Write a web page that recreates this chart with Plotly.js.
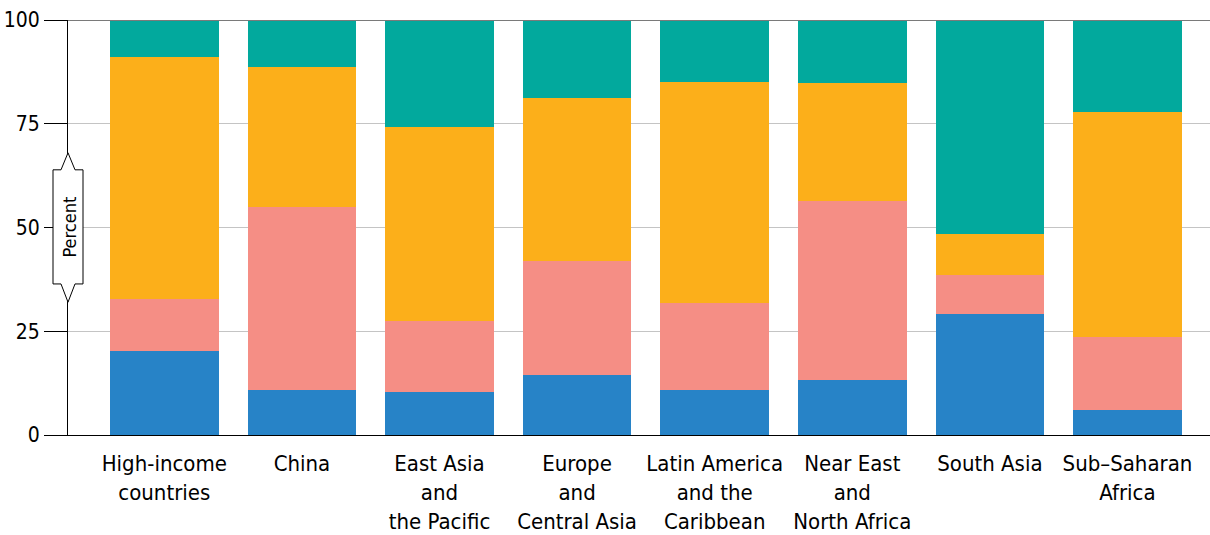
<!DOCTYPE html>
<html>
<head>
<meta charset="utf-8">
<script src="https://cdn.plot.ly/plotly-3.0.1.min.js"></script>
<style>
html,body{margin:0;padding:0;background:#fff;}
#chart{width:1210px;height:535px;}
</style>
</head>
<body>
<div id="chart"></div>
<script>
const categories = [
  "High-income<br>countries",
  "China",
  "East Asia<br>and<br>the Pacific",
  "Europe<br>and<br>Central Asia",
  "Latin America<br>and the<br>Caribbean",
  "Near East<br>and<br>North Africa",
  "South Asia",
  "Sub–Saharan<br>Africa"
];
// stacked shares (percent), bottom to top
const blueValues   = [20.2, 10.8, 10.4, 14.5, 10.8, 13.3, 29.2, 6.0];
const pinkValues   = [12.6, 44.1, 17.1, 27.4, 21.0, 43.1, 9.4, 17.6];
const orangeValues = [58.3, 33.8, 46.7, 39.3, 53.3, 28.4, 9.8, 54.2];
const tealValues   = [8.9, 11.3, 25.8, 18.8, 14.9, 15.2, 51.6, 22.2];
const yTicks = [0, 25, 50, 75, 100];
const yTitle = "Percent";

const FONT = "'DejaVu Sans Condensed', 'Liberation Sans Narrow', sans-serif";

const series = [
  {name: "Blue", y: blueValues, color: "#2783c7"},
  {name: "Pink", y: pinkValues, color: "#f58e85"},
  {name: "Orange", y: orangeValues, color: "#fcaf1a"},
  {name: "Teal", y: tealValues, color: "#02a99d"}
];

const xIdx = categories.map((c, i) => i);
const traces = series.map(s => ({
  type: "bar",
  x: xIdx,
  y: s.y,
  name: s.name,
  marker: {color: s.color, line: {width: 0}},
  hoverinfo: "skip"
}));

const layout = {
  width: 1210,
  height: 535,
  margin: {l: 68, r: 0, t: 20, b: 100},
  barmode: "stack",
  bargap: 0.21,
  showlegend: false,
  paper_bgcolor: "#fff",
  plot_bgcolor: "#fff",
  font: {family: FONT, size: 22, color: "#000"},
  xaxis: {
    range: [-0.7, 7.6],
    tickmode: "array",
    tickvals: xIdx,
    ticktext: categories,
    ticks: "",
    showline: true,
    linecolor: "#000",
    linewidth: 1,
    showgrid: false,
    zeroline: false,
    tickfont: {family: FONT, size: 22, color: "#000"},
    ticklabelstandoff: 9,
    fixedrange: true
  },
  yaxis: {
    range: [0, 100],
    tickmode: "array",
    tickvals: yTicks,
    ticktext: yTicks.map(String),
    ticks: "outside",
    ticklen: 23,
    tickcolor: "#000",
    tickwidth: 1,
    showline: true,
    linecolor: "#000",
    linewidth: 1,
    showgrid: true,
    gridcolor: "#c4c4c4",
    gridwidth: 1,
    zeroline: false,
    tickfont: {family: FONT, size: 21, color: "#000"},
    ticklabelstandoff: 0,
    fixedrange: true
  },
  shapes: [
    {
      type: "line", xref: "paper", yref: "y",
      x0: 0, x1: 1, y0: 100, y1: 100,
      line: {color: "#7a7a7a", width: 2},
      layer: "above"
    },
    {
      type: "path", xref: "paper", yref: "y",
      xsizemode: "pixel", xanchor: 0,
      path: "M -15 63.9 L -7 63.9 L 0 68 L 7 63.9 L 15 63.9 L 15 36.4 L 7 36.4 L 0 32.0 L -7 36.4 L -15 36.4 Z",
      fillcolor: "#fff",
      line: {color: "#000", width: 1},
      layer: "above"
    }
  ],
  annotations: [
    {
      xref: "paper", yref: "y",
      x: 0, y: 50, xshift: 1,
      text: yTitle,
      showarrow: false,
      textangle: -90,
      font: {family: FONT, size: 18, color: "#000"},
      xanchor: "center", yanchor: "middle"
    }
  ]
};

Plotly.newPlot("chart", traces, layout, {displayModeBar: false, staticPlot: true});
</script>
</body>
</html>
